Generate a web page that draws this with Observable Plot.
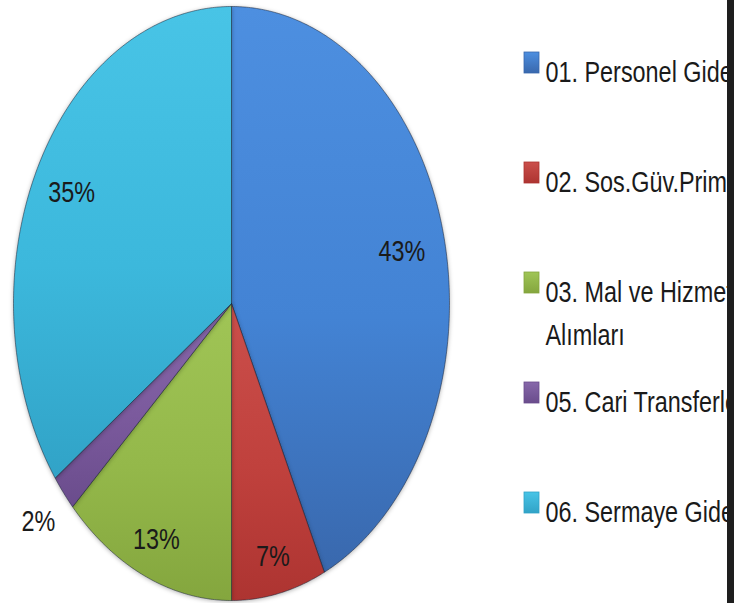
<!DOCTYPE html>
<html><head><meta charset="utf-8">
<script src="https://cdn.jsdelivr.net/npm/d3@7"></script>
<script src="https://cdn.jsdelivr.net/npm/@observablehq/plot@0.6"></script>
<style>
html,body{margin:0;padding:0;background:#fff;overflow:hidden;}
#chart svg{display:block;overflow:hidden;}
</style></head><body><div id="chart"></div>
<script>
// ---- data ----
const categories = ["01. Personel Giderleri", "02. Sos.Güv.Primi Giderleri", "03. Mal ve Hizmet Alımları", "05. Cari Transferler", "06. Sermaye Giderleri"];
const legendLabels = ["01. Personel Giderleri", "02. Sos.Güv.Primi Giderleri", "03. Mal ve Hizmet\nAlımları", "05. Cari Transferler", "06. Sermaye Giderleri"];
const shares = [43, 7, 13, 2, 35];
const pctLabels = ["43%", "7%", "13%", "2%", "35%"];

// ---- styles ----
const baseColors = ["#4383d4", "#c0413d", "#94b84a", "#7b5a9d", "#3cb8dc"];
const lightColors = ["#4d8fe0", "#cb4f4b", "#a0c556", "#8768aa", "#48c4e6"];
const darkColors = ["#3968ad", "#ad3431", "#84a63e", "#6a4c8c", "#31a3c7"];
const FONT = "'Liberation Sans', Arial, sans-serif";
const NARROW = 0.78; // horizontal condensing of text (Arial Narrow look)

// ---- layout ----
const W = 734, H = 603;
const cx = 231, cy = 303, rx = 218, ry = 297;
const X = px => (px - cx) / rx;
const Y = py => (cy - py) / ry;

const arcs = d3.pie().sort(null).value(d => d)(shares);

const slices = arcs.map((a, i) => {
  const pts = [{x: 0, y: 0}];
  const n = Math.max(2, Math.ceil((a.endAngle - a.startAngle) / (Math.PI / 360)));
  for (let k = 0; k <= n; k++) {
    const t = a.startAngle + (a.endAngle - a.startAngle) * k / n;
    pts.push({x: Math.sin(t), y: Math.cos(t)});
  }
  pts.push({x: 0, y: 0});
  return pts;
});

const labelData = arcs.map((a, i) => {
  const m = (a.startAngle + a.endAngle) / 2;
  const inside = shares[i] >= 5;
  const r = inside ? 0.78 + 0.095 * Math.abs(Math.cos(m)) : 1.15;
  return {x: r * Math.sin(m), y: r * Math.cos(m), text: pctLabels[i]};
});

const legendData = legendLabels.map((t, i) => {
  const c = 62.5 + i * 110;
  return {x1: X(524), x2: X(539), y1: Y(c + 10.5), y2: Y(c - 10.5), tx: X(545), ty: Y(c - 10.75), text: t, i};
});

const marks = [];
slices.forEach((pts, i) => {
  marks.push(Plot.line(pts, {x: "x", y: "y", fill: `url(#g${i})`, stroke: "rgba(20,30,50,0.5)", strokeWidth: 1, curve: "linear",
    imageFilter: "drop-shadow(0px 1px 2px rgba(0,0,0,0.3))"}));
});
marks.push(Plot.text(labelData, {x: "x", y: "y", text: "text", fontSize: 30, fontFamily: FONT, fill: "#1a1a1a", ariaLabel: "pct"}));
legendData.forEach((d, i) => {
  marks.push(Plot.rect([d], {x1: "x1", x2: "x2", y1: "y1", y2: "y2", fill: `url(#s${i})`, stroke: darkColors[i], strokeWidth: 0.8}));
});
marks.push(Plot.text(legendData, {x: "tx", y: "ty", text: "text", textAnchor: "start", lineAnchor: "top", lineHeight: 1.417, fontSize: 30, fontFamily: FONT, fill: "#1a1a1a", ariaLabel: "legend"}));
marks.push(Plot.rect([{x1: X(727), x2: X(735), y1: Y(H + 2), y2: Y(-2)}], {x1: "x1", x2: "x2", y1: "y1", y2: "y2", fill: "#1e1e1e"}));

const svg = Plot.plot({
  width: W, height: H,
  margin: 0,
  x: {domain: [-1, 1], range: [cx - rx, cx + rx], axis: null},
  y: {domain: [-1, 1], range: [cy + ry, cy - ry], axis: null},
  style: {background: "#fff", overflow: "hidden"},
  marks
});

// condense text horizontally around each text's anchor (keeps em-based baseline offsets)
d3.select(svg).selectAll("text").each(function() {
  const el = this;
  const tr = el.getAttribute("transform");
  if (tr) {
    el.setAttribute("transform", `${tr} scale(${NARROW},1)`);
  } else {
    const tx = parseFloat(el.getAttribute("x")) || 0;
    el.setAttribute("x", 0);
    el.setAttribute("transform", `translate(${tx},0) scale(${NARROW},1)`);
  }
});

const defs = d3.select(svg).insert("defs", ":first-child");
baseColors.forEach((c, i) => {
  const g = defs.append("linearGradient").attr("id", `g${i}`).attr("x1", 0).attr("y1", 0).attr("x2", 0).attr("y2", 1);
  g.append("stop").attr("offset", "0%").attr("stop-color", lightColors[i]);
  g.append("stop").attr("offset", "55%").attr("stop-color", c);
  g.append("stop").attr("offset", "100%").attr("stop-color", darkColors[i]);
  const s = defs.append("linearGradient").attr("id", `s${i}`).attr("x1", 0).attr("y1", 0).attr("x2", 0).attr("y2", 1);
  s.append("stop").attr("offset", "0%").attr("stop-color", lightColors[i]);
  s.append("stop").attr("offset", "100%").attr("stop-color", darkColors[i]);
});
document.getElementById("chart").appendChild(svg);
</script></body></html>
